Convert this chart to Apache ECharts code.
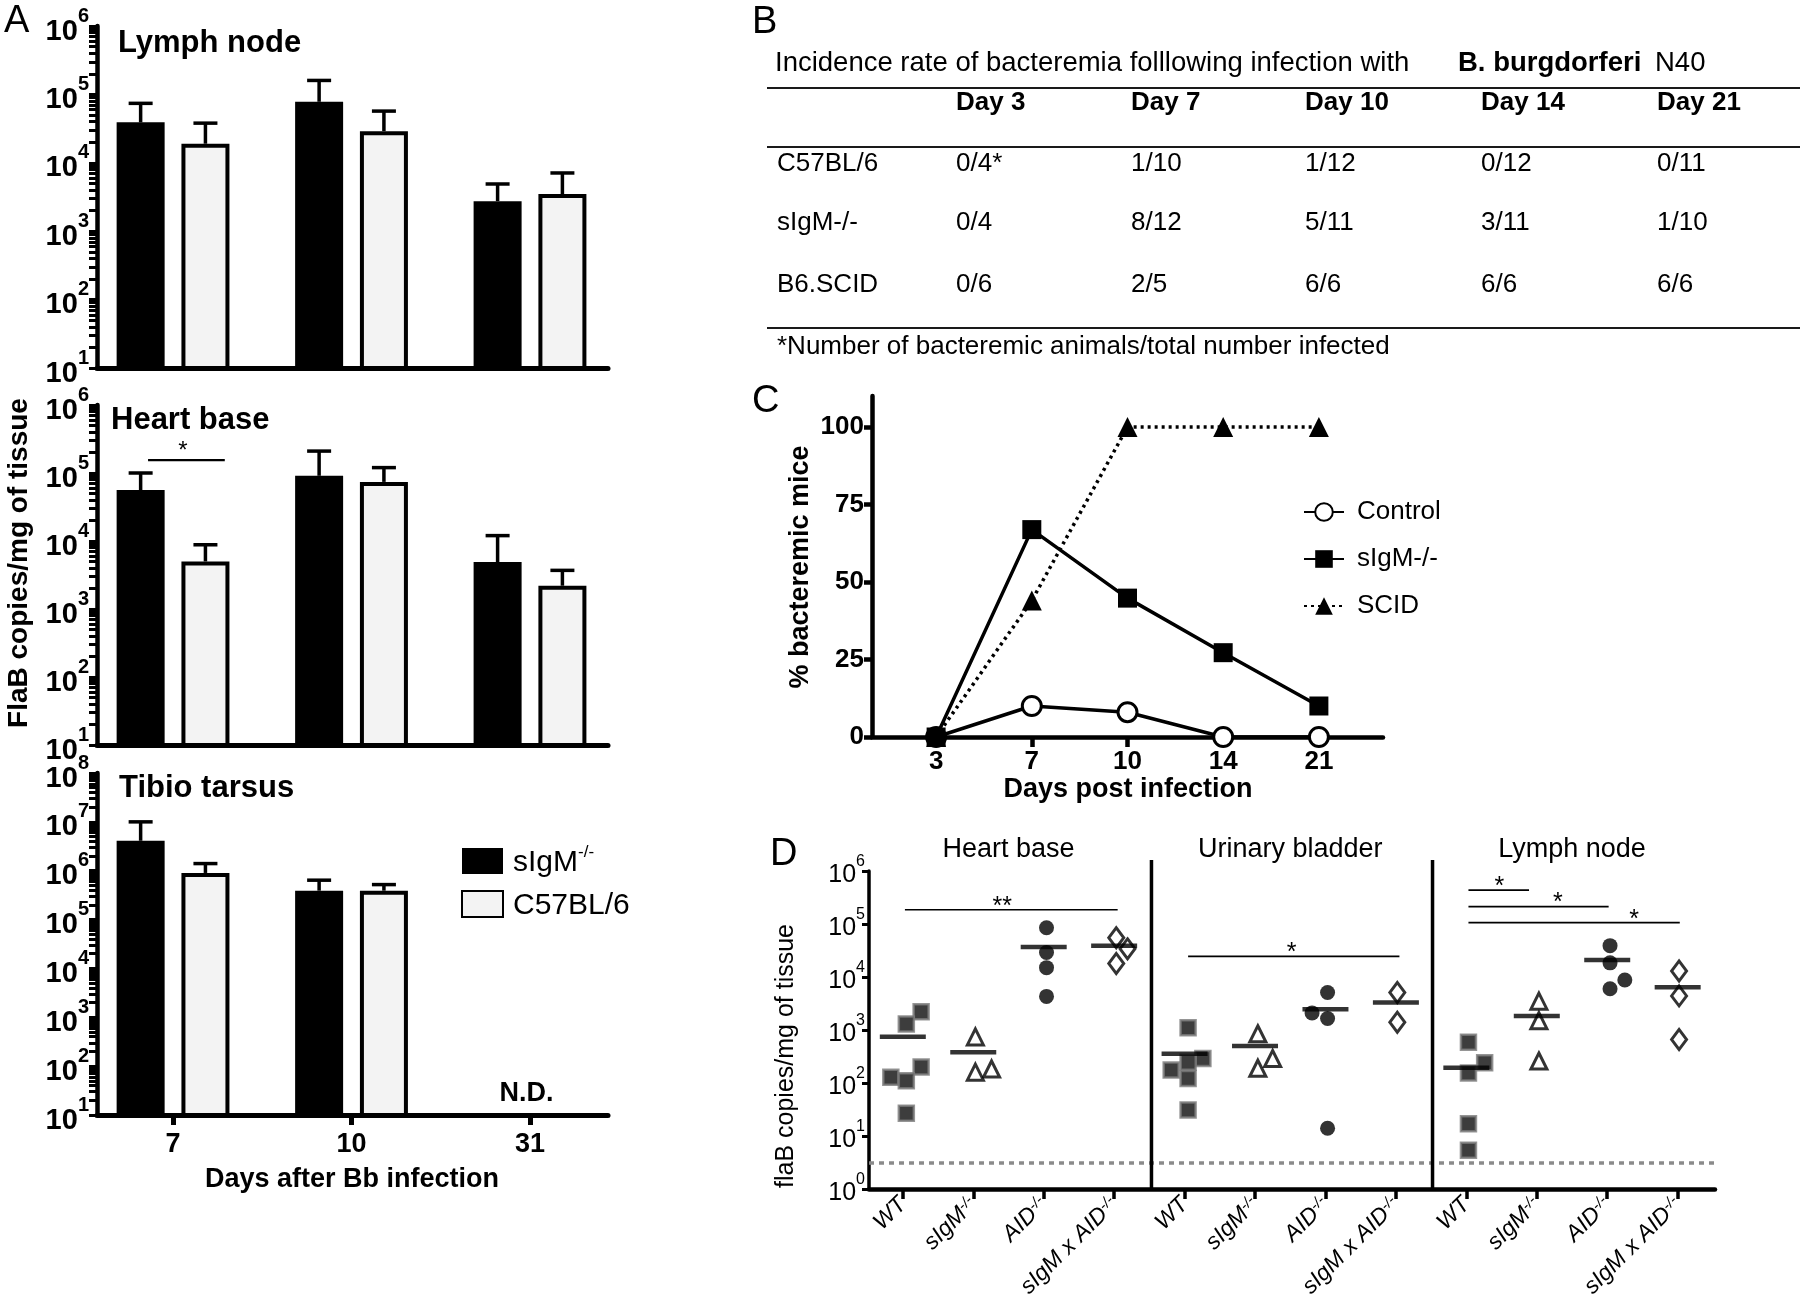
<!DOCTYPE html>
<html>
<head>
<meta charset="utf-8">
<script src="https://cdn.jsdelivr.net/npm/echarts@6.0.0/dist/echarts.min.js"></script>
<style>
html,body{margin:0;padding:0;background:#fff;}
#chart{width:1800px;height:1302px;}
</style>
</head>
<body>
<div id="chart"></div>
<script>
// ================= DATA =================
// ---- Panel A (bar + SEM, log scale) ----
const aDays = ['7', '10', '31'];
const aLymphSIgM    = [39000, 78000, 2750];
const aLymphSIgMErr = [74000, 160000, 4900];
const aLymphB6      = [19000, 29000, 3500];
const aLymphB6Err   = [38000, 57000, 7100];
const aHeartSIgM    = [56000, 91000, 4900];
const aHeartSIgMErr = [100000, 210000, 12000];
const aHeartB6      = [5000, 74000, 2200];
const aHeartB6Err   = [8800, 120000, 3700];
const aTibioSIgM    = [4100000, 390000, null];
const aTibioSIgMErr = [10000000, 640000, null];
const aTibioB6      = [900000, 390000, null];
const aTibioB6Err   = [1400000, 520000, null];
const aPanelTitles  = ['Lymph node', 'Heart base', 'Tibio tarsus'];
const aYMaxExp      = [6, 6, 8];
const aSigHeart     = [[-0.14, 0.29, 155000, 0.055]]; // from, to, level, star position
const aSigHeartLabel = ['*'];
const aNotDone      = [[1.98, 10]];
const aNotDoneLabel = ['N.D.'];

// ---- Panel B (table) ----
const bTitle = 'Incidence rate of bacteremia folllowing infection with';
const bTitleBold = 'B. burgdorferi';
const bTitleEnd = 'N40';
const bColumns = ['Day 3', 'Day 7', 'Day 10', 'Day 14', 'Day 21'];
const bRows = ['C57BL/6', 'sIgM-/-', 'B6.SCID'];
const bC57  = ['0/4*', '1/10', '1/12', '0/12', '0/11'];
const bSIgM = ['0/4', '8/12', '5/11', '3/11', '1/10'];
const bSCID = ['0/6', '2/5', '6/6', '6/6', '6/6'];
const bFootnote = '*Number of bacteremic animals/total number infected';

// ---- Panel C (% bacteremic mice) ----
const cDays = ['3', '7', '10', '14', '21'];
const cControl = [0, 10, 8, 0, 0];
const cSIgM    = [0, 66.9, 44.8, 27.2, 10];
const cSCID    = [0, 44, 100, 100, 100];
const cYTicks  = [0, 25, 50, 75, 100];

// ---- Panel D (flaB copies/mg, log scale) ----
const dTissues = ['Heart base', 'Urinary bladder', 'Lymph node'];
const dGenotypes = ['WT', 'sIgM-/-', 'AID-/-', 'sIgM x AID-/-'];
const dHeartWT     = [2200, 1300, 200, 128, 110, 27];
const dHeartSIgM   = [740, 184, 160];
const dHeartAID    = [85000, 29000, 15000, 4300];
const dHeartDKO    = [55000, 34000, 18000];
const dBladderWT   = [1100, 290, 245, 175, 122, 31];
const dBladderSIgM = [850, 290, 190];
const dBladderAID  = [5100, 2100, 1650, 14];
const dBladderDKO  = [5100, 1400];
const dLymphWT     = [590, 240, 155, 17, 5.4];
const dLymphSIgM   = [3500, 1500, 260];
const dLymphAID    = [39000, 18500, 8800, 6000];
const dLymphDKO    = [13000, 4400, 660];
const dHeartMeans   = [747, 382, 36700, 38800];
const dBladderMeans = [357, 497, 2470, 3300];
const dLymphMeans   = [193, 1840, 21000, 6400];
// horizontal scatter of each point inside its column (category units)
const dJitter = [
  [0.26, 0.05, 0.26, -0.17, 0.05, 0.05], [0.03, 0.26, 0.03], [0.04, 0.04, 0.04, 0.04], [0.03, 0.19, 0.03],
  [0.05, 0.26, 0.05, -0.19, 0.05, 0.05], [0.04, 0.25, 0.04], [0.03, -0.19, 0.03, 0.03], [0.02, 0.02],
  [0.03, 0.26, 0.03, 0.03, 0.03], [0.03, 0.03, 0.03], [0.04, 0.04, 0.25, 0.04], [0.02, 0.02, 0.02]
];
const dDetectionLimit = 3.1;
const dSig = [[0.03, 3.05, 186000, 1.41], [4.05, 7.05, 24500, 5.52], [8.03, 8.89, 436000, 8.47],
              [8.03, 10.02, 213000, 9.30], [8.03, 11.03, 106000, 10.38]]; // from, to, level, star x
const dSigLabels = ['**', '*', '*', '*', '*'];
const dDividers = [3.53, 7.52];

// ================= LAYOUT / STYLE =================
const F = "'Liberation Sans', Arial, Helvetica, sans-serif";
const BLACK = '#000';
const LIGHT = '#f3f3f3';
const BAR_W = 48, BAR_GAP = 0.35, CAP_W = 24;

const dGroups = [dHeartWT, dHeartSIgM, dHeartAID, dHeartDKO,
                 dBladderWT, dBladderSIgM, dBladderAID, dBladderDKO,
                 dLymphWT, dLymphSIgM, dLymphAID, dLymphDKO];
const dMeans = dHeartMeans.concat(dBladderMeans, dLymphMeans);
const dXLabels = dGenotypes.concat(dGenotypes, dGenotypes);

function supText(s) { return s.replace('-/-', '{s|-/-}'); }
function pows(a, b) { const r = []; for (let n = a; n <= b; n++) r.push(Math.pow(10, n)); return r; }
function logMinor(a, b) {
  const r = [];
  for (let n = a; n < b; n++) for (let k = 1; k <= 9; k++) r.push(k * Math.pow(10, n));
  r.push(Math.pow(10, b));
  return r;
}
function powLabel(v) { return '{b|10}{s|' + Math.round(Math.log10(v)) + '}'; }

const aRich = {
  b: { fontSize: 29, fontWeight: 'bold', fontFamily: F, color: BLACK, lineHeight: 40, verticalAlign: 'bottom' },
  s: { fontSize: 20, fontWeight: 'bold', fontFamily: F, color: BLACK, lineHeight: 18, verticalAlign: 'top' }
};
const dRich = {
  b: { fontSize: 25, fontFamily: F, color: BLACK, lineHeight: 34, verticalAlign: 'bottom' },
  s: { fontSize: 16, fontFamily: F, color: BLACK, lineHeight: 15, verticalAlign: 'top' }
};

const A_LEFT = 97, A_WIDTH = 511;
const A_GRIDS = [{ top: 26, height: 342 }, { top: 405, height: 340 }, { top: 773, height: 342 }];

const grids = [], xAxes = [], yAxes = [], series = [];

// ---- Panel A ----
const aSets = [
  [aLymphSIgM, aLymphSIgMErr, aLymphB6, aLymphB6Err],
  [aHeartSIgM, aHeartSIgMErr, aHeartB6, aHeartB6Err],
  [aTibioSIgM, aTibioSIgMErr, aTibioB6, aTibioB6Err]
];
function errRender(sign) {
  return function (params, api) {
    const x = api.value(0), v = api.value(1), e = api.value(2);
    const p0 = api.coord([x, v]), p1 = api.coord([x, e]);
    const cx = p0[0] + sign * (BAR_W + BAR_W * BAR_GAP) / 2;
    return { type: 'group', children: [
      { type: 'line', shape: { x1: cx, y1: p0[1], x2: cx, y2: p1[1] }, style: { stroke: BLACK, lineWidth: 3.5 } },
      { type: 'line', shape: { x1: cx - CAP_W / 2, y1: p1[1], x2: cx + CAP_W / 2, y2: p1[1] }, style: { stroke: BLACK, lineWidth: 3.5 } }
    ] };
  };
}
for (let i = 0; i < 3; i++) {
  grids.push({ left: A_LEFT, width: A_WIDTH, top: A_GRIDS[i].top, height: A_GRIDS[i].height, outerBoundsMode: 'none', containLabel: false });
  xAxes.push({
    type: 'value', gridIndex: i, min: -0.426, max: 2.437, splitLine: { show: false },
    axisLine: { show: true, onZero: false, lineStyle: { color: BLACK, width: 5 } },
    axisTick: { show: i === 2, customValues: [0, 1, 2], length: 10, lineStyle: { color: BLACK, width: 5 } },
    axisLabel: { show: i === 2, customValues: [0, 1, 2], formatter: v => aDays[Math.round(v)], margin: 16,
      fontSize: 27, fontWeight: 'bold', fontFamily: F, color: BLACK }
  });
  yAxes.push({
    type: 'log', logBase: 10, gridIndex: i, min: 10, max: Math.pow(10, aYMaxExp[i]), splitLine: { show: false },
    axisLine: { show: true, onZero: false, lineStyle: { color: BLACK, width: 4.5 } },
    axisTick: { show: true, customValues: logMinor(1, aYMaxExp[i]), length: 8, lineStyle: { color: BLACK, width: 3 } },
    minorTick: { show: false },
    axisLabel: { customValues: pows(1, aYMaxExp[i]), formatter: powLabel, rich: aRich, margin: 8,
      fontSize: 29, fontWeight: 'bold', fontFamily: F, color: BLACK }
  });
  const [s1, e1, s2, e2] = aSets[i];
  series.push({
    name: 'sIgM (A)', type: 'bar', xAxisIndex: i, yAxisIndex: i, barWidth: BAR_W, barGap: (BAR_GAP * 100) + '%',
    clip: true, itemStyle: { color: BLACK, borderColor: BLACK, borderWidth: 0 },
    data: s1.map((v, k) => [k, v])
  });
  series.push({
    name: 'C57BL/6', type: 'bar', xAxisIndex: i, yAxisIndex: i, barWidth: BAR_W, barGap: (BAR_GAP * 100) + '%',
    clip: true, itemStyle: { color: LIGHT, borderColor: BLACK, borderWidth: 4 },
    data: s2.map((v, k) => [k, v])
  });
  series.push({
    type: 'custom', xAxisIndex: i, yAxisIndex: i, z: 5, renderItem: errRender(-1),
    data: s1.map((v, k) => [k, v, e1[k]]).filter(d => d[1] != null)
  });
  series.push({
    type: 'custom', xAxisIndex: i, yAxisIndex: i, z: 5, renderItem: errRender(1),
    data: s2.map((v, k) => [k, v, e2[k]]).filter(d => d[1] != null)
  });
}
series.push({
  type: 'custom', xAxisIndex: 1, yAxisIndex: 1, z: 6, data: aSigHeart,
  renderItem(params, api) {
    const a = api.coord([api.value(0), api.value(2)]);
    const b = api.coord([api.value(1), api.value(2)]);
    const s = api.coord([api.value(3), api.value(2)]);
    return { type: 'group', children: [
      { type: 'line', shape: { x1: a[0], y1: a[1], x2: b[0], y2: b[1] }, style: { stroke: BLACK, lineWidth: 2.2 } },
      { type: 'text', x: s[0], y: a[1] - 9, style: { text: aSigHeartLabel[params.dataIndex], font: '24px ' + F, fill: BLACK, align: 'center', verticalAlign: 'middle' } }
    ] };
  }
});
series.push({
  type: 'custom', xAxisIndex: 2, yAxisIndex: 2, z: 6, data: aNotDone,
  renderItem(params, api) {
    const p = api.coord([api.value(0), api.value(1)]);
    return { type: 'text', x: p[0], y: p[1] - 8, style: { text: aNotDoneLabel[params.dataIndex], font: 'bold 27px ' + F, fill: BLACK, align: 'center', verticalAlign: 'bottom' } };
  }
});

// ---- Panel C ----
grids.push({ left: 872, width: 511, top: 396, height: 341, outerBoundsMode: 'none', containLabel: false });
xAxes.push({
  type: 'value', gridIndex: 3, min: -0.67, max: 4.67, splitLine: { show: false },
  axisLine: { show: true, onZero: false, lineStyle: { color: BLACK, width: 4.5 } },
  axisTick: { customValues: [0, 1, 2, 3, 4], length: 10, lineStyle: { color: BLACK, width: 4.5 } },
  axisLabel: { customValues: [0, 1, 2, 3, 4], formatter: v => cDays[Math.round(v)], margin: 12,
    fontSize: 26, fontWeight: 'bold', fontFamily: F, color: BLACK }
});
yAxes.push({
  type: 'value', gridIndex: 3, min: 0, max: 110, splitLine: { show: false },
  axisLine: { show: true, onZero: false, lineStyle: { color: BLACK, width: 4.5 } },
  axisTick: { customValues: cYTicks, length: 8, lineStyle: { color: BLACK, width: 4.5 } },
  axisLabel: { customValues: cYTicks, margin: 8, fontSize: 26, fontWeight: 'bold', fontFamily: F, color: BLACK }
});
series.push({
  name: 'Control', type: 'line', xAxisIndex: 3, yAxisIndex: 3, z: 3,
  data: cControl.map((v, k) => [k, v]), symbol: 'circle', symbolSize: 19,
  itemStyle: { color: '#fff', borderColor: BLACK, borderWidth: 3 },
  lineStyle: { color: BLACK, width: 3.5 }
});
series.push({
  name: 'sIgM-/-', type: 'line', xAxisIndex: 3, yAxisIndex: 3, z: 4,
  data: cSIgM.map((v, k) => [k, v]), symbol: 'rect', symbolSize: 19,
  itemStyle: { color: BLACK }, lineStyle: { color: BLACK, width: 3.5 }
});
series.push({
  name: 'SCID', type: 'line', xAxisIndex: 3, yAxisIndex: 3, z: 4,
  data: cSCID.map((v, k) => [k, v]), symbol: 'triangle', symbolSize: 20,
  itemStyle: { color: BLACK }, lineStyle: { color: BLACK, width: 3.5, type: [3, 4] }
});

// ---- Panel D ----
grids.push({ left: 869, width: 846, top: 871, height: 318, outerBoundsMode: 'none', containLabel: false });
const dTickVals = dXLabels.map((_, k) => k);
xAxes.push({
  type: 'value', gridIndex: 4, min: -0.48, max: 11.53, splitLine: { show: false },
  axisLine: { show: true, onZero: false, lineStyle: { color: BLACK, width: 4.5 } },
  axisTick: { customValues: dTickVals, length: 10, lineStyle: { color: BLACK, width: 3.5 } },
  axisLabel: { customValues: dTickVals, formatter: v => supText(dXLabels[Math.round(v)]), rotate: 45, margin: 12,
    fontSize: 23, fontStyle: 'italic', fontFamily: F, color: BLACK,
    rich: { s: { fontSize: 15, fontStyle: 'italic', fontFamily: F, color: BLACK, verticalAlign: 'top', lineHeight: 13 } } }
});
yAxes.push({
  type: 'log', logBase: 10, gridIndex: 4, min: 1, max: 1e6, splitLine: { show: false },
  axisLine: { show: true, onZero: false, lineStyle: { color: BLACK, width: 3.5 } },
  axisTick: { customValues: pows(0, 6), length: 7, lineStyle: { color: BLACK, width: 3 } },
  minorTick: { show: false },
  axisLabel: { customValues: pows(0, 6), formatter: powLabel, rich: dRich, margin: 4,
    fontSize: 25, fontFamily: F, color: BLACK }
});
function dPoints(genotypeIndex) {
  const out = [];
  for (let t = 0; t < 3; t++) {
    const g = t * 4 + genotypeIndex;
    dGroups[g].forEach((v, k) => out.push([g + dJitter[g][k], v]));
  }
  return out;
}
series.push({
  type: 'scatter', xAxisIndex: 4, yAxisIndex: 4, z: 3, data: dPoints(0), symbol: 'rect', symbolSize: 15,
  itemStyle: { color: '#0d0d0d', borderColor: '#7a7a7a', borderWidth: 2.5 }
});
series.push({
  type: 'scatter', xAxisIndex: 4, yAxisIndex: 4, z: 3, data: dPoints(1), symbol: 'triangle', symbolSize: 16,
  itemStyle: { color: '#fff', borderColor: BLACK, borderWidth: 3 }
});
series.push({
  type: 'scatter', xAxisIndex: 4, yAxisIndex: 4, z: 3, data: dPoints(2), symbol: 'circle', symbolSize: 15,
  itemStyle: { color: BLACK }
});
series.push({
  type: 'scatter', xAxisIndex: 4, yAxisIndex: 4, z: 3, data: dPoints(3), symbol: 'diamond', symbolSize: [15, 20],
  itemStyle: { color: '#fff', borderColor: BLACK, borderWidth: 3 }
});
series.push({
  type: 'scatter', xAxisIndex: 4, yAxisIndex: 4, z: 4, data: dMeans.map((v, k) => [k, v]),
  symbol: 'rect', symbolSize: [46, 4.5], itemStyle: { color: BLACK },
  markLine: {
    silent: true, symbol: 'none', label: { show: false },
    lineStyle: { color: '#8a8a8a', width: 3.5, type: [5, 5] },
    data: [{ yAxis: dDetectionLimit }]
  }
});
series.push({
  type: 'custom', xAxisIndex: 4, yAxisIndex: 4, z: 5, data: dDividers.map(x => [x, 1]),
  renderItem(params, api) {
    const b = api.coord([api.value(0), 1]);
    const t = api.coord([api.value(0), 1e6]);
    return { type: 'line', shape: { x1: b[0], y1: b[1], x2: b[0], y2: t[1] - 11 }, style: { stroke: BLACK, lineWidth: 3.5 } };
  }
});
series.push({
  type: 'custom', xAxisIndex: 4, yAxisIndex: 4, z: 5, data: dTissues.map((_, k) => [k * 4 + 1.5, 1e6]),
  renderItem(params, api) {
    const p = api.coord([api.value(0), api.value(1)]);
    return { type: 'text', x: p[0], y: p[1] - 21, style: { text: dTissues[params.dataIndex], font: '27px ' + F, fill: BLACK, align: 'center', verticalAlign: 'middle' } };
  }
});
series.push({
  type: 'custom', xAxisIndex: 4, yAxisIndex: 4, z: 5, data: dSig,
  renderItem(params, api) {
    const a = api.coord([api.value(0), api.value(2)]);
    const b = api.coord([api.value(1), api.value(2)]);
    const s = api.coord([api.value(3), api.value(2)]);
    return { type: 'group', children: [
      { type: 'line', shape: { x1: a[0], y1: a[1], x2: b[0], y2: b[1] }, style: { stroke: BLACK, lineWidth: 1.6 } },
      { type: 'text', x: s[0], y: a[1] - 3, style: { text: dSigLabels[params.dataIndex], font: '25px ' + F, fill: BLACK, align: 'center', verticalAlign: 'middle' } }
    ] };
  }
});

// ---- static text (panel letters, titles, table) ----
const graphic = [];
function txt(x, y, text, font, opts) {
  graphic.push({ type: 'text', x: x, y: y, style: Object.assign({ text: text, font: font, fill: BLACK, verticalAlign: 'middle' }, opts || {}) });
}
txt(4, 22, 'A', '38px ' + F);
txt(752, 23, 'B', '38px ' + F);
txt(752, 402, 'C', '38px ' + F);
txt(770, 855, 'D', '38px ' + F);
const aTitleLeft = [118, 111, 119], aTitleY = [43, 420, 788];
aPanelTitles.forEach((t, i) => txt(aTitleLeft[i], aTitleY[i], t, 'bold 31px ' + F));
graphic.push({ type: 'text', x: 19, y: 563, rotation: Math.PI / 2,
  style: { text: 'FlaB copies/mg of tissue', font: 'bold 28px ' + F, fill: BLACK, align: 'center', verticalAlign: 'middle' } });
txt(352, 1180, 'Days after Bb infection', 'bold 27px ' + F, { align: 'center' });
graphic.push({ type: 'text', x: 801, y: 567, rotation: Math.PI / 2,
  style: { text: '% bacteremic mice', font: 'bold 27px ' + F, fill: BLACK, align: 'center', verticalAlign: 'middle' } });
txt(1128, 790, 'Days post infection', 'bold 27px ' + F, { align: 'center' });
graphic.push({ type: 'text', x: 786, y: 1056, rotation: Math.PI / 2,
  style: { text: 'flaB copies/mg of tissue', font: '25px ' + F, fill: BLACK, align: 'center', verticalAlign: 'middle' } });

// table (panel B)
const B_FONT = '26px ' + F, B_BOLD = 'bold 26px ' + F;
const bColX = [956, 1131, 1305, 1481, 1657], bLabelX = 777, bHeadY = 103, bRowY = [164, 223, 285];
txt(775, 63, bTitle, '27.5px ' + F);
txt(1458, 63, bTitleBold, 'bold 27.5px ' + F);
txt(1655, 63, bTitleEnd, '27.5px ' + F);
[88, 147, 328].forEach(y => graphic.push({ type: 'line', shape: { x1: 767, y1: y, x2: 1800, y2: y }, style: { stroke: '#1a1a1a', lineWidth: 2.2 } }));
bColumns.forEach((c, j) => txt(bColX[j], bHeadY, c, B_BOLD));
const bCells = [bC57, bSIgM, bSCID];
bRows.forEach((r, i) => {
  txt(bLabelX, bRowY[i], r, B_FONT);
  bCells[i].forEach((c, j) => txt(bColX[j], bRowY[i], c, B_FONT));
});
txt(777, 347, bFootnote, B_FONT);

const option = {
  backgroundColor: '#fff',
  animation: false,
  grid: grids, xAxis: xAxes, yAxis: yAxes, series: series, graphic: graphic,
  legend: [
    {
      data: [{ name: 'sIgM (A)', icon: 'rect' }, { name: 'C57BL/6', icon: 'rect' }],
      orient: 'vertical', left: 456, top: 839, itemWidth: 41, itemHeight: 26, itemGap: 12,
      selectedMode: false,
      formatter: n => n === 'sIgM (A)' ? '{t|sIgM}{s|-/-}' : '{t|' + n + '}',
      textStyle: { fontSize: 30, fontFamily: F, color: BLACK, padding: [0, 0, 0, 5],
        rich: { t: { fontSize: 30, fontFamily: F, color: BLACK, lineHeight: 34, verticalAlign: 'bottom' },
                s: { fontSize: 17, fontFamily: F, color: BLACK, lineHeight: 16, verticalAlign: 'top' } } }
    },
    {
      data: ['Control', 'sIgM-/-', 'SCID'],
      orient: 'vertical', left: 1298, top: 492, itemWidth: 40, itemHeight: 22, itemGap: 17,
      selectedMode: false,
      textStyle: { fontSize: 26, fontFamily: F, color: BLACK, lineHeight: 30, padding: [0, 0, 0, 8] }
    }
  ]
};

const chart = echarts.init(document.getElementById('chart'), null, { renderer: 'canvas' });
chart.setOption(option);
</script>
</body>
</html>
